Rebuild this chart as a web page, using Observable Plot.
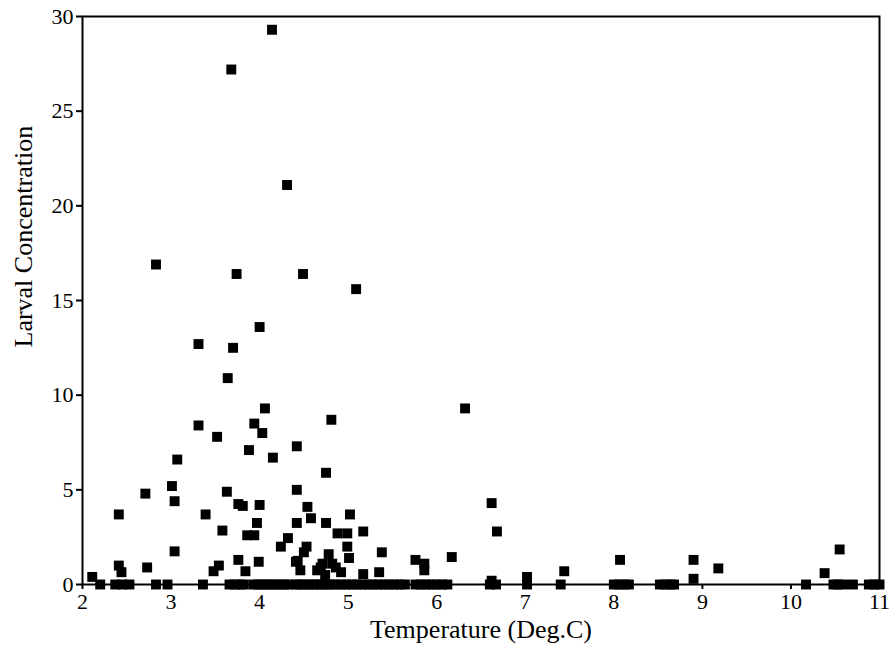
<!DOCTYPE html>
<html>
<head>
<meta charset="utf-8">
<script src="https://cdn.jsdelivr.net/npm/d3@7"></script>
<script src="https://cdn.jsdelivr.net/npm/@observablehq/plot@0.6"></script>
<style>
  html, body { margin: 0; padding: 0; background: #fff; }
</style>
</head>
<body>
<div id="chart"></div>
<script>
// Non-zero observations (temperature °C, larval concentration)
const temperature = [
  4.14, 3.68, 4.31, 2.83, 3.74, 4.49, 5.09, 4.00, 3.31, 3.70,
  3.64, 4.06, 6.32, 4.81, 3.94, 3.31, 4.03, 3.52, 4.42, 3.88,
  4.15, 3.07, 4.75, 3.01, 4.42, 3.63, 2.71, 3.04, 6.62, 3.76,
  3.81, 4.00, 4.54, 2.41, 3.39, 5.02, 4.58, 3.97, 4.42, 4.75,
  3.58, 5.17, 6.68, 4.88, 4.99, 3.86, 3.94, 4.32, 4.24, 4.53,
  4.99, 10.55, 3.04, 4.50, 5.38, 4.78, 5.01, 6.17, 3.76, 5.76,
  8.07, 8.90, 4.43, 3.99, 4.41, 4.71, 4.82, 5.86, 2.41, 3.54,
  2.73, 4.69, 4.86, 9.18, 2.44, 3.48, 3.84, 4.46, 4.65, 4.92,
  5.35, 5.86, 7.44, 2.11, 5.17, 4.74, 10.38, 7.02, 8.90, 6.62
];
const concentration = [
  29.3, 27.2, 21.1, 16.9, 16.4, 16.4, 15.6, 13.6, 12.7, 12.5,
  10.9, 9.3, 9.3, 8.7, 8.5, 8.4, 8.0, 7.8, 7.3, 7.1,
  6.7, 6.6, 5.9, 5.2, 5.0, 4.9, 4.8, 4.4, 4.3, 4.25,
  4.15, 4.2, 4.1, 3.7, 3.7, 3.7, 3.5, 3.25, 3.25, 3.25,
  2.85, 2.8, 2.8, 2.7, 2.7, 2.6, 2.6, 2.45, 2.0, 2.0,
  2.0, 1.85, 1.75, 1.7, 1.7, 1.6, 1.4, 1.45, 1.3, 1.3,
  1.3, 1.3, 1.25, 1.2, 1.2, 1.1, 1.1, 1.1, 1.0, 1.0,
  0.9, 0.9, 0.9, 0.85, 0.65, 0.7, 0.7, 0.75, 0.75, 0.65,
  0.65, 0.75, 0.7, 0.4, 0.55, 0.5, 0.6, 0.4, 0.3, 0.2
];
// Observations with zero larval concentration (temperatures)
const zeroTemperature = [
  2.20, 2.37, 2.45, 2.53, 2.83, 2.96, 3.36, 3.66, 3.72, 3.78,
  3.82, 3.93, 3.98, 4.03, 4.08, 4.13, 4.18, 4.23, 4.28, 4.33,
  4.41, 4.45, 4.50, 4.55, 4.60, 4.65, 4.70, 4.75, 4.80, 4.86,
  4.92, 4.98, 5.04, 5.10, 5.16, 5.22, 5.28, 5.34, 5.40, 5.46,
  5.52, 5.58, 5.64, 5.76, 5.82, 5.88, 5.94, 6.00, 6.06, 6.12,
  6.60, 6.67, 7.02, 7.40, 8.00, 8.06, 8.12, 8.17, 8.52, 8.58,
  8.64, 8.68, 10.17, 10.48, 10.53, 10.59, 10.70, 10.88, 10.94, 11.0
];
const xTicks = [2, 3, 4, 5, 6, 7, 8, 9, 10, 11];
const yTicks = [0, 5, 10, 15, 20, 25, 30];
const xLabel = "Temperature (Deg.C)";
const yLabel = "Larval Concentration";

const data = temperature.map((t, i) => ({t, c: concentration[i]}))
  .concat(zeroTemperature.map(t => ({t, c: 0})));

const font = "'Liberation Serif', 'Times New Roman', serif";

const chart = Plot.plot({
  width: 893,
  height: 654,
  marginLeft: 82,
  marginRight: 14,
  marginTop: 16,
  marginBottom: 70,
  style: {fontFamily: font, fontSize: "22px", color: "black", background: "white"},
  x: {domain: [2, 11], label: null},
  y: {domain: [0, 30], label: null},
  marks: [
    Plot.frame({stroke: "black", strokeWidth: 2}),
    Plot.axisX({ticks: xTicks, tickSize: 5, tickPadding: 4, label: null, tickFormat: d => String(d), strokeWidth: 2, fontSize: 22}),
    Plot.axisY({ticks: yTicks, tickSize: 6, tickPadding: 3, label: null, tickFormat: d => String(d), strokeWidth: 2, fontSize: 22}),
    Plot.dot(data, {x: "t", y: "c", symbol: "square", r: 5.6, fill: "black", stroke: null}),
    Plot.text([xLabel], {frameAnchor: "bottom", dy: 53, fontSize: 26}),
    Plot.text([yLabel], {frameAnchor: "left", rotate: -90, dx: -59, dy: 47, fontSize: 26})
  ]
});
document.getElementById("chart").appendChild(chart);
</script>
</body>
</html>
